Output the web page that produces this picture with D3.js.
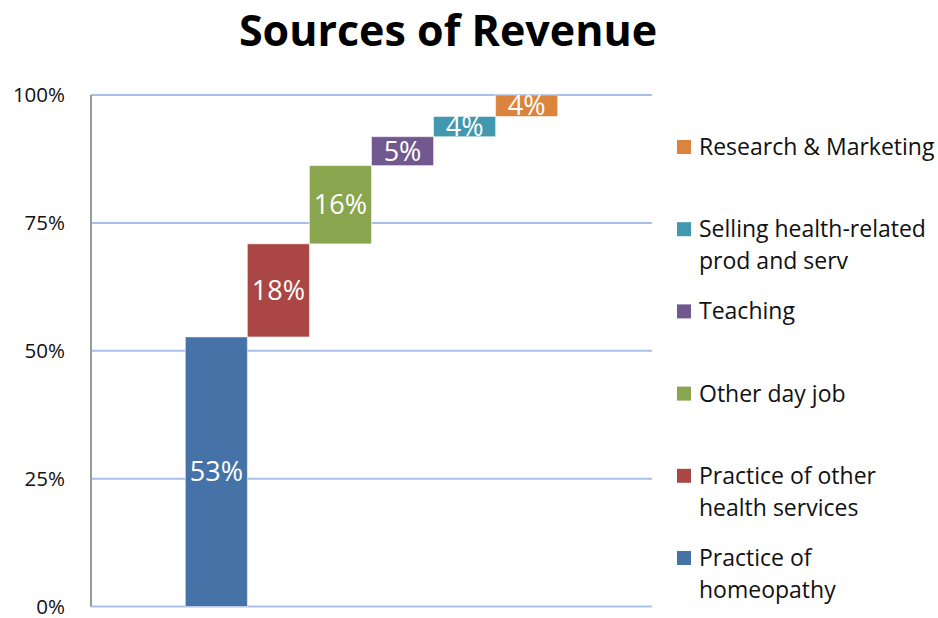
<!DOCTYPE html>
<html lang="en">
<head>
<meta charset="UTF-8">
<title>Sources of Revenue</title>
<style>
    body {
        margin: 0;
        background: #fff;
        font-family: 'Open Sans', sans-serif;
    }
    .grid line { stroke: #a9c1e8; stroke-width: 2; }
    .bar-label { fill: #fff; font-size: 27px; }
    .tick-label { fill: #111; font-size: 20.5px; }
    .legend-text { fill: #111; font-size: 23px; }
</style>
</head>
<body>
<div id="chart"></div>
<script src="https://d3js.org/d3.v7.min.js"></script>
<script>
    const categories = ["Practice of homeopathy", "Practice of other health services", "Other day job",
        "Teaching", "Selling health-related prod and serv", "Research & Marketing"];
    // share of revenue (fraction)
    const values = [0.527, 0.182, 0.153, 0.0565, 0.0395, 0.042];
    // the labels printed on the bars
    const barLabels = ["53%", "18%", "16%", "5%", "4%", "4%"];
    const colors = ["#4572a7", "#aa4643", "#89a54e", "#71588f", "#4198af", "#db843d"];
    const legendLines = [
        ["Practice of", "homeopathy"],
        ["Practice of other", "health services"],
        ["Other day job"],
        ["Teaching"],
        ["Selling health-related", "prod and serv"],
        ["Research & Marketing"]
    ];
    const yTicks = [0, 0.25, 0.5, 0.75, 1];

    const width = 938, height = 618;
    const svg = d3.select("#chart").append("svg")
        .attr("width", width)
        .attr("height", height);

    const x = d3.scaleBand().domain(categories).range([91, 652]).paddingInner(0).paddingOuter(1.52);
    const y = d3.scaleLinear().domain([0, 1]).range([606.5, 95]);

    // waterfall: each bar starts where the previous one ended
    let run = 0;
    const bars = categories.map((c, i) => {
        const b = { cat: c, start: run, end: run + values[i], label: barLabels[i], color: colors[i] };
        run += values[i];
        return b;
    });

    svg.append("text")
        .attr("x", 448)
        .attr("y", 46)
        .attr("text-anchor", "middle")
        .style("font-size", "43px")
        .style("font-weight", "bold")
        .text("Sources of Revenue");

    svg.append("g").attr("class", "grid")
        .selectAll("line")
        .data(yTicks)
        .join("line")
        .attr("x1", 91).attr("x2", 652)
        .attr("y1", d => y(d)).attr("y2", d => y(d));

    svg.append("line")
        .attr("x1", 91).attr("x2", 91)
        .attr("y1", y(1)).attr("y2", y(0))
        .attr("stroke", "#999").attr("stroke-width", 2);

    svg.selectAll(".tick-label")
        .data(yTicks)
        .join("text")
        .attr("class", "tick-label")
        .attr("x", 65)
        .attr("y", d => y(d))
        .attr("dy", "0.35em")
        .attr("text-anchor", "end")
        .text(d => d3.format(".0%")(d));

    svg.selectAll(".bar")
        .data(bars)
        .join("rect")
        .attr("class", "bar")
        .attr("x", d => x(d.cat))
        .attr("width", x.bandwidth())
        .attr("y", d => y(d.end))
        .attr("height", d => y(d.start) - y(d.end))
        .attr("fill", d => d.color)
        .attr("stroke", "rgba(255,255,255,0.5)")
        .attr("stroke-width", 1);

    svg.selectAll(".bar-label")
        .data(bars)
        .join("text")
        .attr("class", "bar-label")
        .attr("x", d => x(d.cat) + x.bandwidth() / 2)
        .attr("y", d => (y(d.start) + y(d.end)) / 2)
        .attr("dy", "0.36em")
        .attr("text-anchor", "middle")
        .text(d => d.label);

    // legend, top to bottom in reverse order
    const legendY = d3.scalePoint().domain(d3.range(categories.length).reverse()).range([147, 558]);
    const legend = svg.selectAll(".legend")
        .data(d3.range(categories.length))
        .join("g")
        .attr("class", "legend")
        .attr("transform", i => `translate(677,${legendY(i)})`);

    legend.append("rect")
        .attr("x", 0).attr("y", -7)
        .attr("width", 14).attr("height", 14)
        .attr("fill", i => colors[i]);

    legend.append("text")
        .attr("class", "legend-text")
        .attr("x", 22)
        .selectAll("tspan")
        .data(i => legendLines[i])
        .join("tspan")
        .attr("x", 22)
        .attr("y", (d, j) => j * 32)
        .attr("dy", "0.35em")
        .text(d => d);
</script>
</body>
</html>
